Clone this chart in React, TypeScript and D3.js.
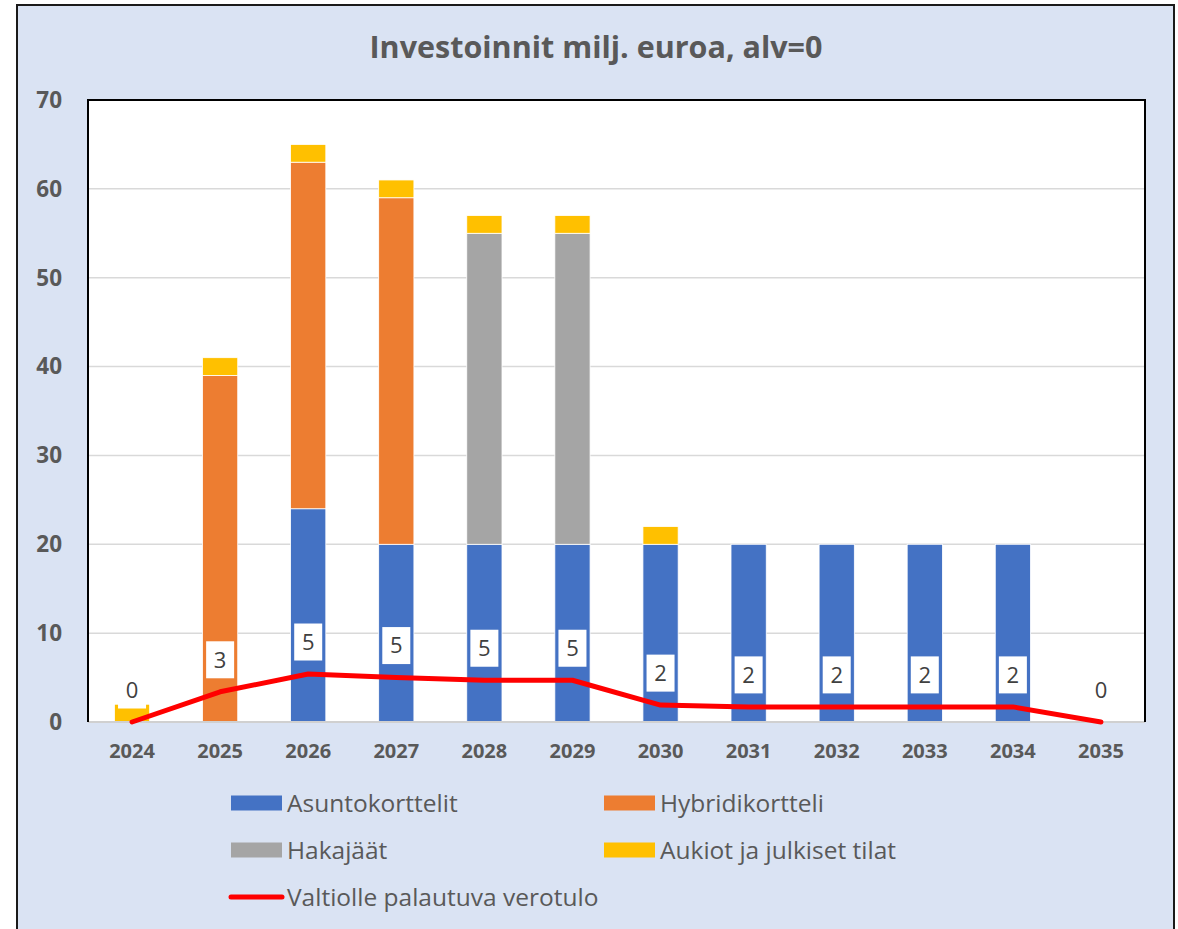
import React from 'react';
import * as d3 from 'd3';

const years = ['2024', '2025', '2026', '2027', '2028', '2029', '2030', '2031', '2032', '2033', '2034', '2035'];
const asuntokorttelit = [0, 0, 24, 20, 20, 20, 20, 20, 20, 20, 20, 0];
const hybridikortteli = [0, 39, 39, 39, 0, 0, 0, 0, 0, 0, 0, 0];
const hakajaat = [0, 0, 0, 0, 35, 35, 0, 0, 0, 0, 0, 0];
const aukiot = [2, 2, 2, 2, 2, 2, 2, 0, 0, 0, 0, 0];
const verotulo = [0, 3.4, 5.4, 5.0, 4.7, 4.7, 1.9, 1.7, 1.7, 1.7, 1.7, 0];
const yTicks = [0, 10, 20, 30, 40, 50, 60, 70];

const seriesNames = ['Asuntokorttelit', 'Hybridikortteli', 'Hakajäät', 'Aukiot ja julkiset tilat'];
const seriesColors = ['#4472C4', '#ED7D31', '#A5A5A5', '#FFC000'];
const lineName = 'Valtiolle palautuva verotulo';

const font = '"Open Sans", sans-serif';
const textColor = '#595959';

const App = () => {
  const W = 1178;
  const H = 929;
  const plot = { left: 88, top: 100, right: 1145, bottom: 722 };

  const x = d3.scaleBand<string>().domain(years).range([plot.left, plot.right]).paddingInner(0.6).paddingOuter(0.3);
  const band = d3.scaleBand<string>().domain(years).range([plot.left, plot.right]);
  const y = d3.scaleLinear().domain([0, 70]).range([plot.bottom, plot.top]);

  const rows = years.map((yr, i) => ({
    year: yr,
    s0: asuntokorttelit[i],
    s1: hybridikortteli[i],
    s2: hakajaat[i],
    s3: aukiot[i],
  }));
  const stack = d3.stack<any>().keys(['s0', 's1', 's2', 's3'])(rows);

  const cx = (yr: string) => (band(yr) as number) + band.bandwidth() / 2;
  const line = d3
    .line<number>()
    .x((_, i) => cx(years[i]))
    .y((d) => y(d));

  const fmt = d3.format('.0f');

  return (
    <svg width={W} height={H} style={{ position: 'absolute', left: 0, top: 0 }}>
      <rect x={17} y={5} width={1157} height={940} fill="#DAE3F3" stroke="#1a1a1a" strokeWidth={2} />
      <text x={596} y={58} textAnchor="middle" fontFamily={font} fontWeight="bold" fontSize={30.5} fill={textColor}>
        Investoinnit milj. euroa, alv=0
      </text>

      <rect x={plot.left} y={plot.top} width={plot.right - plot.left} height={plot.bottom - plot.top} fill="#fff" />
      {yTicks.map((t) => (
        <g key={t}>
          {t > 0 && t < 70 && (
            <line x1={plot.left} x2={plot.right} y1={y(t)} y2={y(t)} stroke="#D9D9D9" strokeWidth={1.5} />
          )}
          <text x={62} y={y(t)} dy="0.35em" textAnchor="end" fontFamily={font} fontWeight="bold" fontSize={22.5} fill={textColor}>
            {t}
          </text>
        </g>
      ))}

      {stack.map((s, si) => (
        <g key={si} fill={seriesColors[si]}>
          {s.map((d: any, i: number) =>
            d[1] - d[0] > 0 ? (
              <rect
                key={i}
                x={x(years[i])}
                width={x.bandwidth()}
                y={y(d[1])}
                height={y(d[0]) - y(d[1])}
                stroke="#fff"
                strokeWidth={0.8}
              />
            ) : null
          )}
        </g>
      ))}

      <line x1={plot.left} x2={plot.right} y1={plot.bottom} y2={plot.bottom} stroke="#D0D0D0" strokeWidth={2} />
      <path d={`M${plot.left},${plot.bottom}V${plot.top}H${plot.right}V${plot.bottom}`} fill="none" stroke="#000" strokeWidth={2} />

      <path d={line(verotulo) as string} fill="none" stroke="#FF0000" strokeWidth={5} strokeLinecap="round" strokeLinejoin="round" />

      {verotulo.map((v, i) => {
        const px = cx(years[i]);
        const py = y(v) - 32;
        return (
          <g key={i}>
            <rect x={px - 14} y={py - 18.5} width={28} height={37} fill="#fff" />
            <text x={px} y={py} dy="0.36em" textAnchor="middle" fontFamily={font} fontSize={22} fill="#404040">
              {fmt(v)}
            </text>
          </g>
        );
      })}

      {years.map((yr) => (
        <text key={yr} x={cx(yr)} y={751} dy="0.35em" textAnchor="middle" fontFamily={font} fontWeight="bold" fontSize={20} fill={textColor}>
          {yr}
        </text>
      ))}

      {seriesNames.map((n, i) => {
        const lx = i % 2 === 0 ? 231 : 604;
        const ly = 803 + Math.floor(i / 2) * 47;
        return (
          <g key={n}>
            <rect x={lx} y={ly - 7.5} width={51} height={15} fill={seriesColors[i]} />
            <text x={lx + 56} y={ly} dy="0.35em" fontFamily={font} fontSize={24.5} fill={textColor}>
              {n}
            </text>
          </g>
        );
      })}
      <line x1={231} x2={282} y1={897} y2={897} stroke="#FF0000" strokeWidth={5} strokeLinecap="round" />
      <text x={287} y={897} dy="0.35em" fontFamily={font} fontSize={24.5} fill={textColor}>
        {lineName}
      </text>
    </svg>
  );
};

export default App;
